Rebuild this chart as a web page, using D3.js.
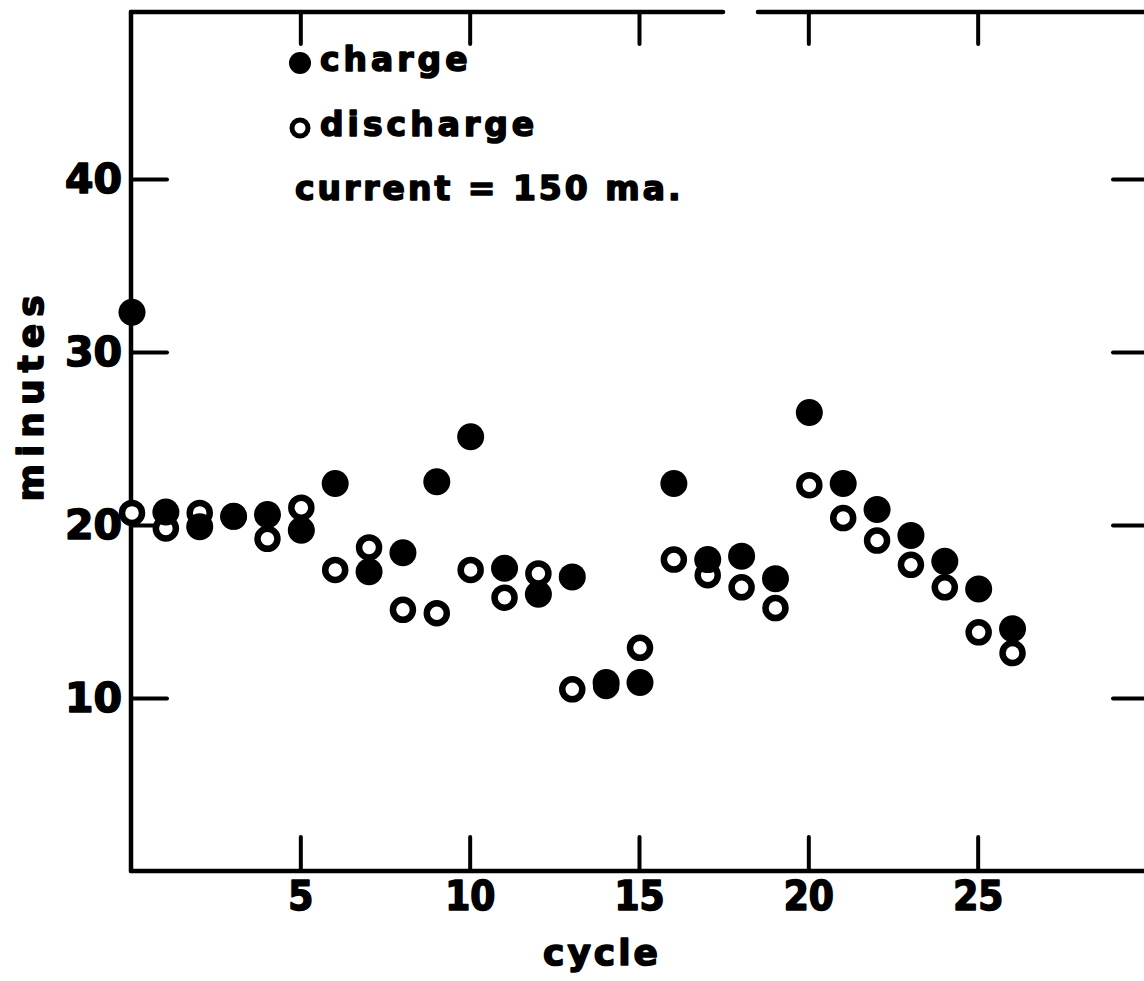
<!DOCTYPE html>
<html>
<head>
<meta charset="utf-8">
<script src="https://cdn.jsdelivr.net/npm/d3@7"></script>
<style>
  html, body { margin: 0; padding: 0; background: #fff; }
  svg text { font-family: "DejaVu Sans", sans-serif; font-weight: bold; fill: #000; stroke: #000; stroke-width: 1.6px; stroke-linejoin: round; }
  svg .xlab text { font-family: "DejaVu Sans Condensed", "DejaVu Sans", sans-serif; font-stretch: condensed; }
</style>
</head>
<body>
<div class="chart"></div>
<script>
// cycle number vs. minutes
var cycles = [0, 1, 2, 3, 4, 5, 6, 7, 8, 9, 10, 11, 12, 13, 14, 15, 16, 17, 18, 19, 20, 21, 22, 23, 24, 25, 26];
var charge = [32.3, 20.75, 19.9, 20.5, 20.6, 19.7, 22.4, 17.3, 18.4, 22.5, 25.1, 17.5, 16.0, 17.0, 10.9, 10.9, 22.4, 18.0, 18.2, 16.9, 26.5, 22.4, 20.9, 19.4, 17.9, 16.3, 14.0];
var discharge = [20.7, 19.8, 20.7, 20.5, 19.2, 21.0, 17.4, 18.7, 15.1, 14.9, 17.4, 15.8, 17.2, 10.5, 10.7, 12.9, 18.0, 17.1, 16.4, 15.2, 22.3, 20.4, 19.1, 17.7, 16.4, 13.8, 12.6];
var xTicks = [5, 10, 15, 20, 25];
var yTicks = [10, 20, 30, 40];

var W = 1144, H = 981;

var x = d3.scaleLinear().domain([0, 30]).range([131, 1147]);
var y = d3.scaleLinear().domain([0, 40]).range([871, 179]);
var yTop = y(49.65);

var svg = d3.select(".chart").append("svg")
    .attr("width", W)
    .attr("height", H);

// frame (top line has a break in the scan)
var frame = svg.append("g")
    .attr("stroke", "#000")
    .attr("stroke-width", 4.5)
    .attr("stroke-linecap", "round")
    .attr("fill", "none");
frame.append("line").attr("x1", x(0)).attr("x2", x(0)).attr("y1", yTop).attr("y2", y(0));
frame.append("line").attr("x1", x(0)).attr("x2", W + 10).attr("y1", y(0)).attr("y2", y(0));
frame.append("line").attr("x1", x(0)).attr("x2", 723).attr("y1", yTop).attr("y2", yTop);
frame.append("line").attr("x1", 758).attr("x2", W + 10).attr("y1", yTop).attr("y2", yTop);

var styleAxis = function(g, size) {
    g.select(".domain").remove();
    g.selectAll(".tick line").attr("stroke", "#000").attr("stroke-width", 4).attr("stroke-linecap", "round");
    g.selectAll(".tick text").attr("font-size", size).attr("fill", "#000");
    g.attr("font-family", null);
};

svg.append("g")
    .attr("transform", "translate(" + x(0) + ",0)")
    .call(d3.axisLeft(y).tickValues(yTicks).tickSizeInner(-36).tickSizeOuter(0).tickPadding(9).tickFormat(d3.format("d")))
    .call(styleAxis, 41);

svg.append("g")
    .attr("transform", "translate(" + x(30) + ",0)")
    .call(d3.axisRight(y).tickValues(yTicks).tickSizeInner(-34).tickSizeOuter(0).tickFormat(""))
    .call(styleAxis, 10);

svg.append("g")
    .attr("class", "xlab")
    .attr("transform", "translate(0," + y(0) + ")")
    .call(d3.axisBottom(x).tickValues(xTicks).tickSizeInner(-34).tickSizeOuter(0).tickPadding(11).tickFormat(d3.format("d")))
    .call(styleAxis, 40);

svg.append("g")
    .attr("transform", "translate(0," + yTop + ")")
    .call(d3.axisTop(x).tickValues(xTicks).tickSizeInner(-32).tickSizeOuter(0).tickFormat(""))
    .call(styleAxis, 10);

// axis titles
svg.append("text")
    .attr("x", 602).attr("y", 965)
    .attr("text-anchor", "middle")
    .attr("font-size", 36)
    .attr("letter-spacing", 3)
    .text("cycle");

svg.append("text")
    .attr("transform", "translate(43,395) rotate(-90)")
    .attr("text-anchor", "middle")
    .attr("font-size", 36)
    .attr("letter-spacing", 7)
    .text("minutes");

// points: open first, filled on top
var pts = svg.append("g");
pts.selectAll("circle.discharge").data(cycles).enter().append("circle")
    .attr("class", "discharge")
    .attr("cx", function(d) { return x(d) + 1; })
    .attr("cy", function(d, i) { return y(discharge[i]); })
    .attr("r", 10)
    .attr("fill", "#fff")
    .attr("stroke", "#000")
    .attr("stroke-width", 6.5);

pts.selectAll("circle.charge").data(cycles).enter().append("circle")
    .attr("class", "charge")
    .attr("cx", function(d) { return x(d) + 1; })
    .attr("cy", function(d, i) { return y(charge[i]); })
    .attr("r", 13.5)
    .attr("fill", "#000");

// legend
var leg = svg.append("g");
leg.append("circle").attr("cx", 300).attr("cy", 63).attr("r", 11).attr("fill", "#000");
leg.append("text").attr("x", 320).attr("y", 71).attr("font-size", 33).attr("letter-spacing", 4).text("charge");
leg.append("circle").attr("cx", 300).attr("cy", 128).attr("r", 8).attr("fill", "#fff").attr("stroke", "#000").attr("stroke-width", 5);
leg.append("text").attr("x", 320).attr("y", 136).attr("font-size", 33).attr("letter-spacing", 4).text("discharge");
leg.append("text").attr("x", 295).attr("y", 200).attr("font-size", 33).attr("letter-spacing", 3).text("current = 150 ma.");
</script>
</body>
</html>
